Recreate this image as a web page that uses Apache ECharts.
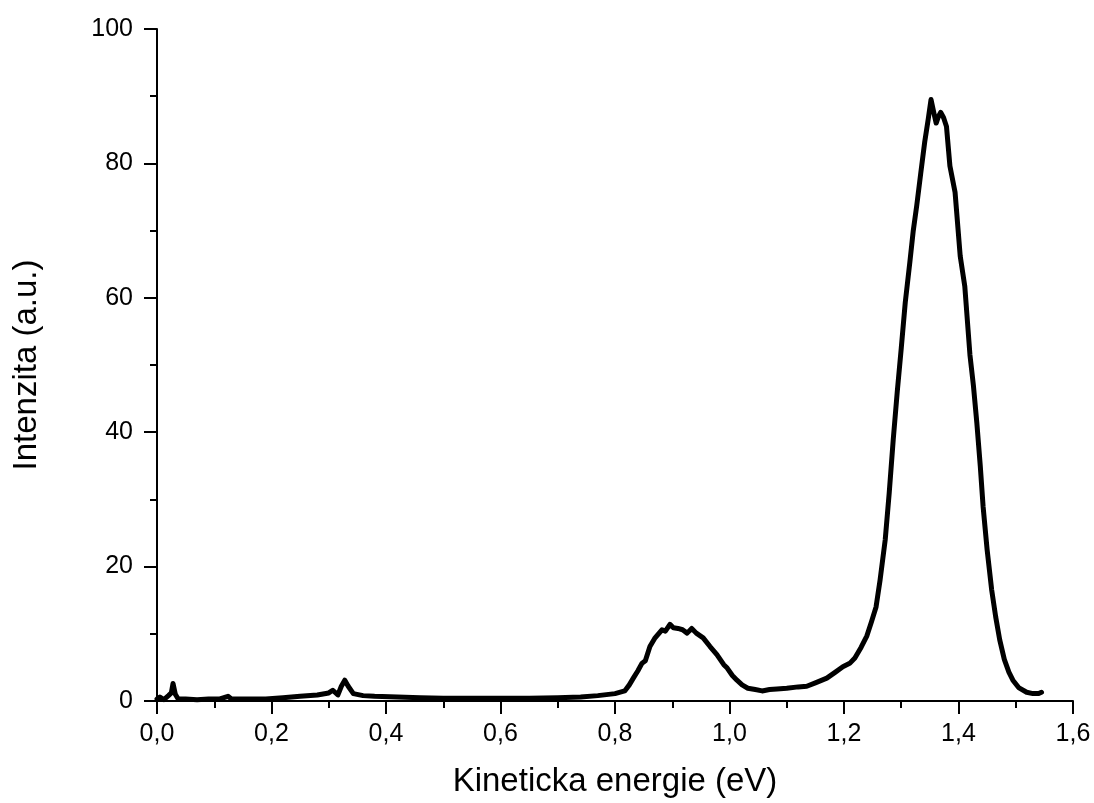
<!DOCTYPE html>
<html>
<head>
<meta charset="utf-8">
<script src="https://cdn.jsdelivr.net/npm/echarts@6/dist/echarts.min.js"></script>
<style>html,body{margin:0;padding:0;background:#fff}#c{width:1094px;height:803px}</style>
</head>
<body>
<div id="c"></div>
<script>
const energy = [0.000,0.005,0.012,0.020,0.025,0.028,0.032,0.037,0.05,0.07,0.09,0.11,0.124,0.13,0.16,0.19,0.22,0.25,0.28,0.300,0.307,0.316,0.322,0.328,0.334,0.343,0.36,0.38,0.42,0.46,0.50,0.55,0.60,0.65,0.70,0.74,0.77,0.80,0.817,0.825,0.832,0.840,0.847,0.853,0.861,0.870,0.882,0.888,0.896,0.902,0.910,0.918,0.926,0.934,0.942,0.954,0.966,0.978,0.990,0.996,1.005,1.013,1.022,1.032,1.045,1.057,1.07,1.083,1.10,1.12,1.135,1.15,1.170,1.185,1.198,1.210,1.219,1.230,1.240,1.248,1.256,1.263,1.272,1.279,1.286,1.293,1.300,1.307,1.315,1.321,1.327,1.334,1.341,1.347,1.352,1.357,1.361,1.365,1.369,1.374,1.379,1.385,1.394,1.403,1.411,1.420,1.426,1.432,1.438,1.443,1.450,1.458,1.465,1.472,1.480,1.488,1.495,1.505,1.519,1.530,1.540,1.545];
const intensity = [0.3,0.6,0.2,0.8,1.2,2.6,1.0,0.3,0.3,0.2,0.3,0.3,0.7,0.3,0.3,0.3,0.5,0.7,0.9,1.2,1.6,0.9,2.2,3.1,2.2,1.1,0.8,0.7,0.6,0.5,0.4,0.4,0.4,0.4,0.5,0.6,0.8,1.1,1.5,2.4,3.4,4.5,5.6,6.0,8.1,9.4,10.6,10.4,11.4,10.9,10.8,10.6,10.1,10.8,10.1,9.4,8.1,6.9,5.4,4.9,3.8,3.1,2.4,1.9,1.7,1.5,1.7,1.8,1.9,2.1,2.2,2.7,3.4,4.3,5.1,5.6,6.4,8.0,9.7,11.8,14.0,18.0,24.0,31,38.9,46,52.5,59.3,65.3,70,73.7,78.5,83.2,86.5,89.5,87.5,86.0,87,87.6,86.8,85.5,79.6,75.7,66.2,61.7,51.5,47,41.4,35,28.9,22.5,16.5,12.5,9.1,6.2,4.3,3.1,2.0,1.3,1.1,1.1,1.3];
const xTitle = 'Kineticka energie (eV)';
const yTitle = 'Intenzita (a.u.)';

const FONT = '"Liberation Sans", Arial, sans-serif';
const chart = echarts.init(document.getElementById('c'), null, {renderer: 'canvas'});
const axisCommon = {
  axisLine: {show: true, lineStyle: {color: '#000', width: 2}},
  axisTick: {show: true, inside: false, length: 13, lineStyle: {color: '#000', width: 2}},
  minorTick: {show: true, splitNumber: 2, length: 7, lineStyle: {color: '#000', width: 2}},
  splitLine: {show: false},
  minorSplitLine: {show: false},
  nameTextStyle: {fontFamily: FONT, fontSize: 33, color: '#000'}
};
chart.setOption({
  animation: false,
  backgroundColor: '#fff',
  grid: {left: 157, right: 21, top: 29, bottom: 102},
  xAxis: Object.assign({}, axisCommon, {
    type: 'value', min: 0, max: 1.6, interval: 0.2,
    name: xTitle, nameLocation: 'middle', nameGap: 64,
    axisLabel: {fontFamily: FONT, fontSize: 25, color: '#000', margin: 21,
      formatter: v => v.toFixed(1).replace('.', ',')}
  }),
  yAxis: Object.assign({}, axisCommon, {
    type: 'value', min: 0, max: 100, interval: 20,
    name: yTitle, nameLocation: 'middle', nameGap: 114,
    axisLabel: {fontFamily: FONT, fontSize: 25, color: '#000', margin: 24}
  }),
  series: [{
    type: 'line',
    data: energy.map((x, i) => [x, intensity[i]]),
    showSymbol: false, symbol: 'none',
    lineStyle: {color: '#000', width: 5, join: 'round', cap: 'round'},
    smooth: false
  }]
});
</script>
</body>
</html>
